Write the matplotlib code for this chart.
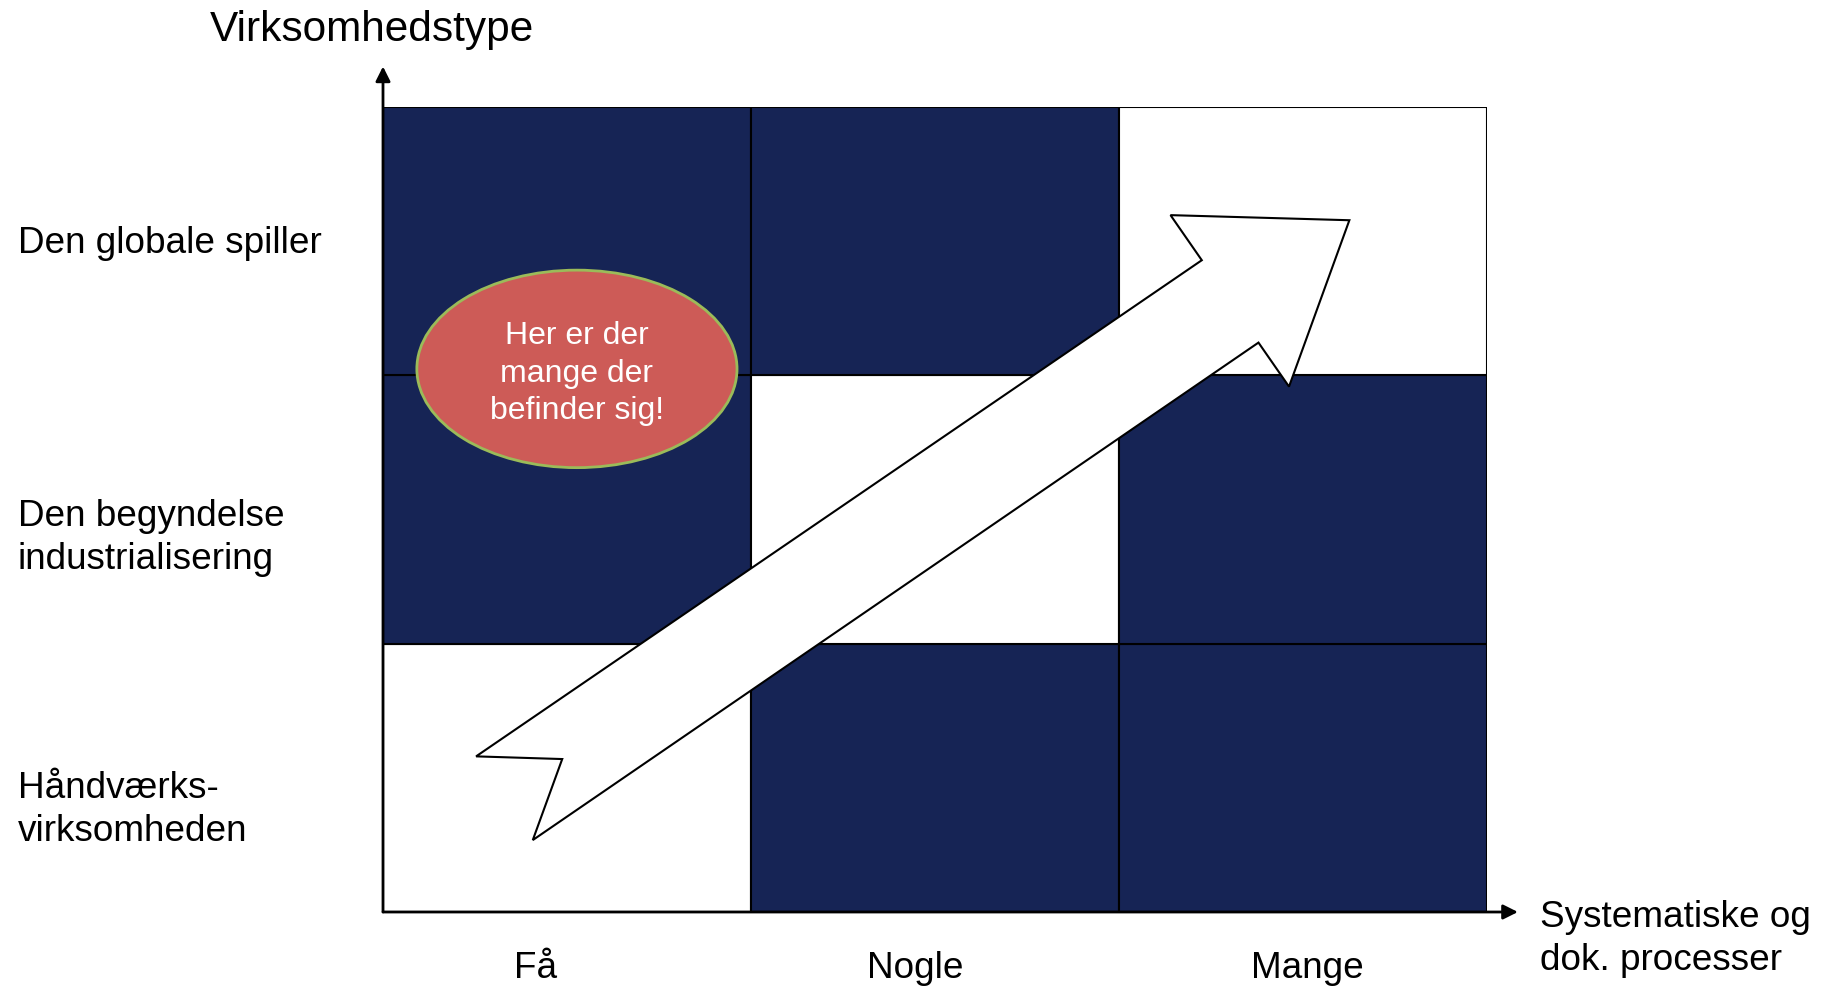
import matplotlib.pyplot as plt
from matplotlib.patches import Rectangle, Ellipse, Polygon

plt.rcParams['font.family'] = ['Liberation Sans', 'DejaVu Sans']

W, H = 1822, 987
navy = '#162455'

# cell pattern, rows from bottom (Håndværks) to top (globale), 1 = dark
pattern = [[0, 1, 1],
           [1, 0, 1],
           [1, 1, 0]]
row_labels = ['Håndværks-\nvirksomheden', 'Den begyndelse\nindustrialisering', 'Den globale spiller']
col_labels = ['Få', 'Nogle', 'Mange']
y_title = 'Virksomhedstype'
x_title = 'Systematiske og\ndok. processer'
bubble_text = 'Her er der\nmange der\nbefinder sig!'

# arrow outline in grid units
arrow_x = [0.253, 0.487, 0.407, 2.379, 2.462, 2.626, 2.140, 2.225]
arrow_y = [0.580, 0.570, 0.268, 2.122, 1.958, 2.578, 2.597, 2.429]

fig = plt.figure(figsize=(W / 100, H / 100), dpi=100)
ax = fig.add_axes([383 / W, 74 / H, 1104 / W, 805 / H])
ax.set_xlim(0, 3)
ax.set_ylim(0, 3)
ax.axis('off')

for r, row in enumerate(pattern):
    for c, v in enumerate(row):
        ax.add_patch(Rectangle((c, r), 1, 1, facecolor=navy if v else 'white',
                               edgecolor='black', linewidth=1.5, zorder=1))

# axes with arrows
ax.annotate('', xy=(3.084, 0), xytext=(0, 0), annotation_clip=False,
            arrowprops=dict(arrowstyle='-|>', color='black', lw=2, mutation_scale=22, shrinkA=0, shrinkB=0), zorder=5)
ax.annotate('', xy=(0, 3.151), xytext=(0, 0), annotation_clip=False,
            arrowprops=dict(arrowstyle='-|>', color='black', lw=2, mutation_scale=22, shrinkA=0, shrinkB=0), zorder=5)

ax.add_patch(Polygon(list(zip(arrow_x, arrow_y)), closed=True, facecolor='white',
                     edgecolor='black', linewidth=1.5, zorder=3))

ax.add_patch(Ellipse((0.527, 2.024), 0.87, 0.736, facecolor='#CD5B57',
                     edgecolor='#9BBB59', linewidth=2, zorder=4))
ax.text(0.527, 2.010, bubble_text, color='white', fontsize=23, ha='center', va='center',
        linespacing=1.33, zorder=6)

fs = 26.6
fig.text(372 / W, 1 - 29.5 / H, y_title, fontsize=30.5, ha='center', va='center')
row_y = [810, 538, 244]
for lab, y in zip(row_labels, row_y):
    fig.text(18 / W, 1 - y / H, lab, fontsize=fs, ha='left', va='center', linespacing=1.33)
col_x = [536, 915, 1307]
for lab, x in zip(col_labels, col_x):
    fig.text(x / W, 1 - 969 / H, lab, fontsize=fs, ha='center', va='center')
fig.text(1540 / W, 1 - 939 / H, x_title, fontsize=fs, ha='left', va='center', linespacing=1.33)

fig.savefig('out.png', dpi=100)
